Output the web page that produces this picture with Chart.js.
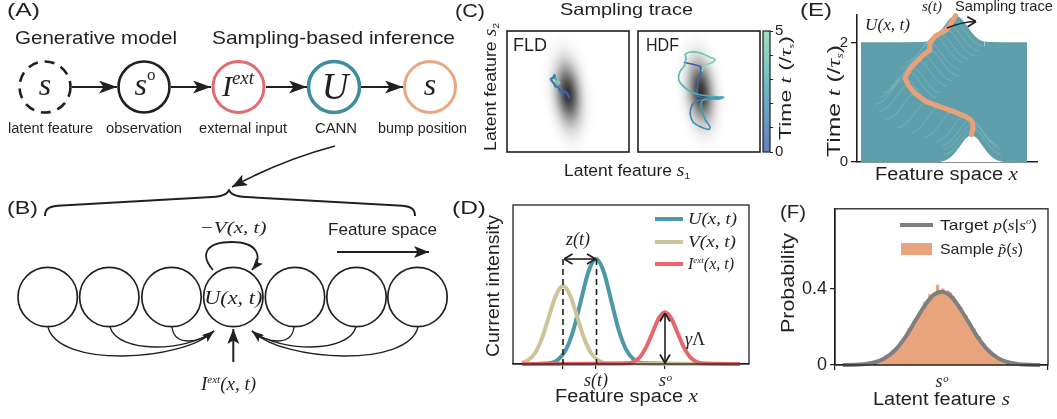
<!DOCTYPE html>
<html><head><meta charset="utf-8">
<script src="https://cdn.jsdelivr.net/npm/chart.js@4.4.0/dist/chart.umd.min.js"></script>
<style>
html,body{margin:0;padding:0;background:#fff;}
#wrap{position:relative;width:1057px;height:419px;overflow:hidden;background:#fff;}
#wrap canvas{position:absolute;}
#ov{position:absolute;left:0;top:0;pointer-events:none;}
#ov text{font-family:'Liberation Sans',Arial,Helvetica,sans-serif;fill:#231f20;}
#ov .m{font-family:'Liberation Serif','Times New Roman',serif;font-style:italic;}
#ov .r{font-style:normal;}
</style></head><body>
<div id="wrap">
<canvas id="cC1" width="127" height="127" style="left:505px;top:28px"></canvas>
<canvas id="cC2" width="127" height="127" style="left:636px;top:28px"></canvas>
<canvas id="cCb" width="40" height="150" style="left:760px;top:15px"></canvas>
<canvas id="cE" width="237" height="190" style="left:820px;top:0px"></canvas>
<canvas id="cD" width="280" height="200" style="left:480px;top:195px"></canvas>
<canvas id="cF" width="277" height="200" style="left:780px;top:195px"></canvas>

<svg id="ov" width="1057" height="419" viewBox="0 0 1057 419">
<defs>
<marker id="mA" viewBox="0 0 18 13" refX="18" refY="6.5" markerWidth="18" markerHeight="13" markerUnits="userSpaceOnUse" orient="auto"><path d="M0,0 L18,6.5 L0,13 L4.5,6.5 Z" fill="#231f20"/></marker>
<marker id="mB" viewBox="0 0 15 12" refX="15" refY="6" markerWidth="15" markerHeight="12" markerUnits="userSpaceOnUse" orient="auto"><path d="M0,0 L15,6 L0,12 L3.5,6 Z" fill="#231f20"/></marker>
<marker id="mS" viewBox="0 0 12 9" refX="12" refY="4.5" markerWidth="12" markerHeight="9" markerUnits="userSpaceOnUse" orient="auto"><path d="M0,0 L12,4.5 L0,9 L2.5,4.5 Z" fill="#231f20"/></marker>
<marker id="mC" viewBox="0 0 10 12" refX="9.5" refY="6" markerWidth="10" markerHeight="12" markerUnits="userSpaceOnUse" orient="auto-start-reverse"><path d="M1,1 L9.5,6 L1,11" fill="none" stroke="#231f20" stroke-width="1.8"/></marker>
</defs>

<!-- Panel A -->
<text x="7" y="16" font-size="18" textLength="33" lengthAdjust="spacingAndGlyphs">(A)</text>
<text x="15" y="44" font-size="18.5" textLength="162" lengthAdjust="spacingAndGlyphs">Generative model</text>
<text x="212" y="44" font-size="18.5" textLength="243" lengthAdjust="spacingAndGlyphs">Sampling-based inference</text>
<circle cx="45" cy="87" r="25.5" fill="none" stroke="#231f20" stroke-width="2.6" stroke-dasharray="10 7"/>
<circle cx="144" cy="87" r="25.5" fill="none" stroke="#231f20" stroke-width="2.6"/>
<circle cx="238.5" cy="87" r="25.5" fill="none" stroke="#e26a70" stroke-width="3"/>
<circle cx="334" cy="87" r="25.5" fill="none" stroke="#3e8e9f" stroke-width="3.6"/>
<circle cx="430" cy="87" r="25.5" fill="none" stroke="#eaa77f" stroke-width="3"/>
<g stroke="#231f20" stroke-width="1.8">
<line x1="72" y1="87" x2="117" y2="87" marker-end="url(#mA)"/>
<line x1="171" y1="87" x2="211" y2="87" marker-end="url(#mA)"/>
<line x1="266" y1="87" x2="307" y2="87" marker-end="url(#mA)"/>
<line x1="361" y1="87" x2="403" y2="87" marker-end="url(#mA)"/>
</g>
<text class="m" x="45" y="95" text-anchor="middle" font-size="32">s</text>
<text class="m" x="145" y="95" text-anchor="middle" font-size="32">s<tspan class="r" font-size="17" dy="-15">o</tspan></text>
<text class="m" x="238" y="96" text-anchor="middle" font-size="30">I<tspan font-size="19" dy="-12">ext</tspan></text>
<text class="m" x="335" y="99" text-anchor="middle" font-size="37">U</text>
<text class="m" x="430" y="95" text-anchor="middle" font-size="32">s</text>
<g font-size="14.5" text-anchor="middle">
<text x="50.5" y="133" textLength="85" lengthAdjust="spacingAndGlyphs">latent feature</text>
<text x="144" y="133" textLength="76" lengthAdjust="spacingAndGlyphs">observation</text>
<text x="243" y="133" textLength="88" lengthAdjust="spacingAndGlyphs">external input</text>
<text x="336" y="133" textLength="42" lengthAdjust="spacingAndGlyphs">CANN</text>
<text x="422.5" y="133" textLength="89" lengthAdjust="spacingAndGlyphs">bump position</text>
</g>
<path d="M335 146 Q282 160 232 187" fill="none" stroke="#231f20" stroke-width="1.8" marker-end="url(#mB)"/>

<!-- Panel B -->
<text x="7" y="214" font-size="18" textLength="31" lengthAdjust="spacingAndGlyphs">(B)</text>
<path d="M45 216 C45 208 50 206 62 205.5 L212 197 C222 196.5 228 194 229 189.5 C230 194 236 196.5 246 197 L398 205.5 C410 206 415 208 415 216" fill="none" stroke="#231f20" stroke-width="2"/>
<text class="m" x="233" y="233" text-anchor="middle" font-size="17" textLength="67" lengthAdjust="spacingAndGlyphs">−V(x, t)</text>
<text x="328" y="235" font-size="17" textLength="109" lengthAdjust="spacingAndGlyphs">Feature space</text>
<line x1="337" y1="252" x2="429" y2="252" stroke="#231f20" stroke-width="2" marker-end="url(#mB)"/>
<g fill="none" stroke="#231f20" stroke-width="1.7">
<circle cx="47.7" cy="297" r="29.7"/><circle cx="109.3" cy="297" r="29.7"/><circle cx="171.5" cy="297" r="29.7"/>
<circle cx="233.3" cy="297" r="29.7"/><circle cx="295" cy="297" r="29.7"/><circle cx="356.5" cy="297" r="29.7"/><circle cx="417.5" cy="297" r="29.7"/>
</g>
<text class="m" x="233.3" y="304" text-anchor="middle" font-size="19" textLength="58" lengthAdjust="spacingAndGlyphs">U(x, t)</text>
<g fill="none" stroke="#231f20" stroke-width="1.3">
<path d="M48 327 C58 368 182 362 214 331"/>
<path d="M110 327 C118 354 186 352 214 331"/>
<path d="M172 327 C174 346 198 344 214 331" marker-end="url(#mS)"/>
<path d="M418 327 C408 368 284 362 252 331"/>
<path d="M356 327 C348 354 280 352 252 331"/>
<path d="M294 327 C292 346 268 344 252 331" marker-end="url(#mS)"/>
<path d="M213 270 C200 255 205 242 232 242 C258 242 263 257 252 270" stroke-width="1.8" marker-end="url(#mS)"/>
<line x1="233.3" y1="362" x2="233.3" y2="329" stroke-width="2" marker-end="url(#mB)"/>
</g>
<text class="m" x="201" y="390" font-size="19">I<tspan font-size="11" dy="-7">ext</tspan><tspan dy="7">(x, t)</tspan></text>

<!-- Panel C -->
<text x="455" y="17" font-size="18" textLength="30" lengthAdjust="spacingAndGlyphs">(C)</text>
<text x="560" y="15" font-size="16.5" textLength="133" lengthAdjust="spacingAndGlyphs">Sampling trace</text>
<text x="513" y="51" font-size="18" textLength="34" lengthAdjust="spacingAndGlyphs">FLD</text>
<text x="646" y="51" font-size="18" textLength="33" lengthAdjust="spacingAndGlyphs">HDF</text>
<text x="564" y="176" font-size="16" textLength="126" lengthAdjust="spacingAndGlyphs">Latent feature <tspan class="m" font-size="18">s</tspan><tspan font-size="9" dy="3">1</tspan></text>
<text transform="translate(496,87) rotate(-90)" text-anchor="middle" font-size="16" textLength="128" lengthAdjust="spacingAndGlyphs">Latent feature <tspan class="m" font-size="18">s</tspan><tspan font-size="9" dy="3">2</tspan></text>
<text transform="translate(791,88) rotate(-90)" text-anchor="middle" font-size="17" textLength="104" lengthAdjust="spacingAndGlyphs">Time <tspan class="m">t</tspan> (/<tspan class="m">τ</tspan><tspan class="m" font-size="9" dy="3">s</tspan><tspan dy="-3">)</tspan></text>

<!-- Panel D -->
<text x="452" y="214" font-size="18" textLength="34" lengthAdjust="spacingAndGlyphs">(D)</text>
<text transform="translate(499,286) rotate(-90)" text-anchor="middle" font-size="18" textLength="142" lengthAdjust="spacingAndGlyphs">Current intensity</text>
<text x="555" y="402" font-size="18" textLength="143" lengthAdjust="spacingAndGlyphs">Feature space <tspan class="m" font-size="19">x</tspan></text>
<g stroke="#231f20" stroke-width="1.6" fill="none">
<line x1="563" y1="259" x2="563" y2="364" stroke-dasharray="6 4"/>
<line x1="596.5" y1="259" x2="596.5" y2="364" stroke-dasharray="6 4"/>
<line x1="564" y1="259" x2="595.5" y2="259" marker-start="url(#mC)" marker-end="url(#mC)"/>
<line x1="665" y1="313" x2="665" y2="363" marker-start="url(#mC)" marker-end="url(#mC)"/>
</g>
<text class="m" x="578" y="245" text-anchor="middle" font-size="18">z(t)</text>
<text class="m" x="685" y="345" font-size="18">γ<tspan class="r">Λ</tspan></text>
<line x1="655" y1="219" x2="683" y2="219" stroke="#4b98a6" stroke-width="4"/>
<line x1="655" y1="242" x2="683" y2="242" stroke="#cdc499" stroke-width="4"/>
<line x1="655" y1="264" x2="683" y2="264" stroke="#e5676c" stroke-width="4"/>
<text class="m" x="688" y="224" font-size="16" textLength="49" lengthAdjust="spacingAndGlyphs">U(x, t)</text>
<text class="m" x="688" y="247" font-size="16" textLength="48" lengthAdjust="spacingAndGlyphs">V(x, t)</text>
<text class="m" x="688" y="269" font-size="16">I<tspan font-size="9" dy="-6">ext</tspan><tspan dy="6">(x, t)</tspan></text>

<!-- Panel E -->
<text x="800" y="16" font-size="18" textLength="32" lengthAdjust="spacingAndGlyphs">(E)</text>
<text class="m" x="865" y="30" font-size="16" textLength="45" lengthAdjust="spacingAndGlyphs">U(x, t)</text>
<text class="m" x="922" y="11" font-size="15">s(t)</text>
<text x="955" y="11" font-size="15" textLength="98" lengthAdjust="spacingAndGlyphs">Sampling trace</text>
<path d="M947 28 Q961 22 976 21.5" fill="none" stroke="#231f20" stroke-width="1.6" marker-end="url(#mC)"/>
<text transform="translate(840,101) rotate(-90)" text-anchor="middle" font-size="18" textLength="112" lengthAdjust="spacingAndGlyphs">Time <tspan class="m">t</tspan> (/<tspan class="m">τ</tspan><tspan class="m" font-size="10" dy="3">s</tspan><tspan dy="-3">)</tspan></text>
<text x="875" y="180" font-size="18" textLength="143" lengthAdjust="spacingAndGlyphs">Feature space <tspan class="m" font-size="19">x</tspan></text>

<!-- Panel F -->
<text x="780" y="218" font-size="18" textLength="26" lengthAdjust="spacingAndGlyphs">(F)</text>
<text transform="translate(794,283) rotate(-90)" text-anchor="middle" font-size="18" textLength="100" lengthAdjust="spacingAndGlyphs">Probability</text>
<text x="873" y="405" font-size="18" textLength="137" lengthAdjust="spacingAndGlyphs">Latent feature <tspan class="m" font-size="19">s</tspan></text>
<line x1="900" y1="225" x2="933" y2="225" stroke="#7f7f7f" stroke-width="4"/>
<text x="940" y="230" font-size="15" textLength="97" lengthAdjust="spacingAndGlyphs">Target <tspan class="m">p</tspan>(<tspan class="m">s</tspan>|<tspan class="m">s</tspan><tspan class="m" font-size="9" dy="-6">o</tspan><tspan dy="6">)</tspan></text>
<rect x="901" y="243" width="31" height="12" fill="#e8a47c"/>
<text x="940" y="254" font-size="15" textLength="83" lengthAdjust="spacingAndGlyphs">Sample <tspan class="m">p̃</tspan>(<tspan class="m">s</tspan>)</text>
</svg>
</div>

<script>
// ================= DATA =================
// Panel C: sampling traces in (s1, s2), time in units of tau_s
const cRange = [-3, 3];
const fldS1 = [0.05,-0.06,-0.18,-0.28,-0.39,-0.48,-0.61,-0.67,-0.80,-0.84,-0.72,-0.67,-0.61,-0.51,-0.43,-0.51];
const fldS2 = [-0.29,-0.07,-0.01,-0.09,0.04,0.21,0.26,0.37,0.53,0.62,0.70,0.81,0.62,0.48,0.42,0.53];
const fldT  = [0,0.2,0.4,0.6,0.8,1.0,1.1,1.2,1.3,1.4,1.5,1.6,3.5,4.2,4.7,5.0];
const hdfS1 = [-0.72,-0.31,0.05,0.10,-0.02,-0.07,-0.10,0.51,1.13,0.43,-0.07,-0.34,-0.43,-0.28,0.10,0.48,0.54,0.31,0.15,0.11,0.26,1.00,1.20,0.59,-0.07,-0.48,-0.80,-1.00,-0.94,-0.72,-0.64,-0.67,-0.39,0.10,0.59,0.79,0.64,0.26,0.15];
const hdfS2 = [1.44,1.35,1.24,1.02,0.62,0.21,-0.21,-0.34,-0.29,-0.40,-0.45,-0.67,-1.11,-1.52,-1.76,-1.88,-1.76,-1.39,-0.94,-0.57,-0.40,-0.37,-0.29,-0.24,-0.14,0.04,0.29,0.58,0.98,1.27,1.64,1.85,1.96,1.90,1.68,1.57,1.44,1.27,1.02];
const hdfT  = [0,0.12,0.25,0.37,0.5,0.62,0.75,0.87,1.0,1.2,1.35,1.5,1.65,1.8,1.95,2.1,2.2,2.35,2.5,2.6,2.7,2.8,2.9,3.0,3.1,3.2,3.35,3.5,3.6,3.7,3.8,3.95,4.1,4.3,4.5,4.65,4.8,4.9,5.0];
const cMeanFLD = [0.0, -0.12];
const cMeanHDF = [0.08, 0.0];
const cSd = [0.4, 1.0];
const cAngle = -6;
const cbarRange = [0, 5];
const cbarTickLabels = ['0','','','','','5'];

// Panel D: current profiles
const dU_x = [0.4,1.6,1.92,2.24,2.56,2.88,3.2,3.52,3.84,4.16,4.48,4.8,5.12,5.44,9.6];
const dU_y = [0,0.007,0.029,0.089,0.214,0.400,0.582,0.66,0.582,0.400,0.214,0.089,0.029,0.007,0];
const dV_x = [0.38,0.62,0.92,1.22,1.52,1.82,2.12,2.42,2.72,3.02,3.32,3.62,3.92,9.6];
const dV_y = [0.007,0.022,0.066,0.159,0.297,0.432,0.49,0.432,0.297,0.159,0.066,0.022,0.005,0];
const dI_x = [0.38,4.85,5.115,5.38,5.645,5.91,6.175,6.44,6.705,6.97,7.235,7.5,7.765,8.03,9.62];
const dI_y = [0,0.004,0.014,0.044,0.106,0.197,0.287,0.325,0.287,0.197,0.106,0.044,0.014,0.004,0];
const dTickPos = [2.12, 3.52, 6.44];
const dTickLabels = ['', 's(t)', 'sᵒ'];

// Panel E: bump trajectory s(t) and bump profile
const eTraceT = [0,0.1,0.19,0.25,0.31,0.39,0.47,0.55,0.69,0.83,0.95,1.06,1.14,1.25,1.34,1.42,1.54,1.65,1.7,1.76,1.84,1.93,2.0];
const eTraceS = [0.33,0.35,0.345,0.32,0.25,0.11,-0.05,-0.21,-0.35,-0.43,-0.47,-0.43,-0.39,-0.31,-0.25,-0.17,-0.17,-0.11,-0.05,0.03,0.07,0.11,0.14];
const eBumpDx = [-0.42,-0.35,-0.28,-0.21,-0.14,-0.07,0,0.07,0.14,0.21,0.28,0.35,0.42];
const eBumpShape = [0.011,0.044,0.135,0.325,0.607,0.882,1,0.882,0.607,0.325,0.135,0.044,0.011];
const eBumpH = 0.46;
const eXRange = [-1, 1];
const eYTickPos = [0, 2];
const eYTickLabels = ['0', '2'];

// Panel F: sample histogram and target posterior
const fHistCenters = [-2.45,-2.35,-2.25,-2.15,-2.05,-1.95,-1.85,-1.75,-1.65,-1.55,-1.45,-1.35,-1.25,-1.15,-1.05,-0.95,-0.85,-0.75,-0.65,-0.55,-0.45,-0.35,-0.25,-0.15,-0.05,0.05,0.15,0.25,0.35,0.45,0.55,0.65,0.75,0.85,0.95,1.05,1.15,1.25,1.35,1.45,1.55,1.65,1.75,1.85,1.95,2.05,2.15,2.25,2.35,2.45];
const fHistValues = [0.02,0.03,0.03,0.05,0.05,0.06,0.08,0.07,0.10,0.11,0.14,0.15,0.19,0.20,0.23,0.25,0.27,0.29,0.33,0.34,0.37,0.36,0.38,0.42,0.39,0.40,0.37,0.39,0.38,0.36,0.34,0.31,0.30,0.27,0.26,0.22,0.21,0.19,0.16,0.15,0.12,0.11,0.09,0.08,0.06,0.05,0.04,0.03,0.03,0.02];
const fTargetX = [-3.8,-3.4,-3.0,-2.6,-2.2,-1.8,-1.4,-1.0,-0.6,-0.3,0,0.3,0.6,1.0,1.4,1.8,2.2,2.6,3.0,3.4,3.8];
const fTargetY = [0.0003,0.0012,0.0043,0.013,0.034,0.076,0.145,0.234,0.321,0.368,0.385,0.368,0.321,0.234,0.145,0.076,0.034,0.013,0.0043,0.0012,0.0003];
const fYTickPos = [0, 0.4];
const fYTickLabels = ['0', '0.4'];
const fXTickPos = [0];
const fXTickLabels = ['sᵒ'];

// ================= STYLE / HELPERS =================
const INK = '#231f20';
const TEAL = '#5e9fab';
const RIDGE = 'rgba(190,225,230,0.2)';
const SERIF_IT = {family:"'Liberation Serif','Times New Roman',serif", style:'italic', size:18};
Chart.defaults.font.family = "'Liberation Sans', Arial, Helvetica, sans-serif";
Chart.defaults.color = INK;

const cmapStops = [[0,[58,88,176]],[0.5,[64,160,182]],[1,[128,218,170]]];
function cmap(f, a){
  if (a === undefined) a = 1;
  f = Math.max(0, Math.min(1, f));
  const i = f <= 0.5 ? 0 : 1;
  const [f0,c0] = cmapStops[i], [f1,c1] = cmapStops[i+1];
  const u = (f - f0) / (f1 - f0);
  const c = c0.map((v,j) => Math.round(v + (c1[j]-v)*u));
  return `rgba(${c[0]},${c[1]},${c[2]},${a})`;
}
const pts = (xs, ys) => xs.map((x,i) => ({x, y: ys[i]}));

const framePlugin = {
  id: 'frame',
  afterDraw(chart, args, o) {
    if (!o || !o.show) return;
    const a = chart.chartArea, ctx = chart.ctx;
    ctx.save();
    ctx.strokeStyle = o.color || INK;
    ctx.lineWidth = o.width || 1.3;
    ctx.strokeRect(a.left, a.top, a.right - a.left, a.bottom - a.top);
    ctx.restore();
  }
};
const blobPlugin = {
  id: 'blob',
  beforeDatasetsDraw(chart, args, o) {
    if (!o || !o.mean) return;
    const xs = chart.scales.x, ys = chart.scales.y, ctx = chart.ctx, a = chart.chartArea;
    const cx = xs.getPixelForValue(o.mean[0]), cy = ys.getPixelForValue(o.mean[1]);
    const sx = Math.abs(xs.getPixelForValue(o.sd[0]) - xs.getPixelForValue(0));
    const sy = Math.abs(ys.getPixelForValue(o.sd[1]) - ys.getPixelForValue(0));
    ctx.save();
    ctx.beginPath(); ctx.rect(a.left, a.top, a.right - a.left, a.bottom - a.top); ctx.clip();
    ctx.translate(cx, cy); ctx.rotate(o.angle * Math.PI / 180); ctx.scale(sx, sy);
    const R = 3.6;
    const g = ctx.createRadialGradient(0, 0, 0, 0, 0, R);
    for (let r = 0; r <= R + 1e-9; r += 0.2) g.addColorStop(Math.min(1, r / R), `rgba(0,0,0,${(o.peak * Math.exp(-r*r/2)).toFixed(4)})`);
    ctx.fillStyle = g;
    ctx.beginPath(); ctx.arc(0, 0, R, 0, Math.PI*2); ctx.fill();
    ctx.restore();
  }
};
Chart.register(framePlugin, blobPlugin);

function baseOpts(pad, extraPlugins) {
  return {
    responsive: false, animation: false, devicePixelRatio: 1, events: [],
    layout: {padding: pad},
    plugins: Object.assign({legend: {display: false}, tooltip: {enabled: false}}, extraPlugins || {})
  };
}

// ================= PANEL C =================
function traceDS(s1, s2, t, w) {
  return {
    data: pts(s1, s2), showLine: true, pointRadius: 0, borderWidth: w, tension: 0.3,
    borderColor: cmap(0), borderCapStyle: 'round', borderJoinStyle: 'round', clip: false,
    segment: {borderColor: c => cmap(t[c.p0DataIndex] / cbarRange[1])}
  };
}
function cScales() {
  return {
    x: {display: false, type: 'linear', min: cRange[0], max: cRange[1]},
    y: {display: false, type: 'linear', min: cRange[0], max: cRange[1]}
  };
}
new Chart(document.getElementById('cC1'), {
  type: 'scatter',
  data: {datasets: [traceDS(fldS1, fldS2, fldT, 2.3)]},
  options: Object.assign(baseOpts({left: 2, top: 3, right: 3, bottom: 3},
    {frame: {show: true, width: 1.6}, blob: {mean: cMeanFLD, sd: cSd, angle: cAngle, peak: 0.8}}), {scales: cScales()})
});
new Chart(document.getElementById('cC2'), {
  type: 'scatter',
  data: {datasets: [traceDS(hdfS1, hdfS2, hdfT, 1.6)]},
  options: Object.assign(baseOpts({left: 2, top: 3, right: 3, bottom: 3},
    {frame: {show: true, width: 1.6}, blob: {mean: cMeanHDF, sd: cSd, angle: cAngle, peak: 0.8}}), {scales: cScales()})
});
new Chart(document.getElementById('cCb'), {
  type: 'bar',
  data: {labels: [''], datasets: [{
    data: [[cbarRange[0], cbarRange[1]]], barPercentage: 1, categoryPercentage: 1, borderWidth: 0,
    backgroundColor: c => {
      const ch = c.chart, a = ch.chartArea;
      if (!a) return cmap(0.5);
      const g = ch.ctx.createLinearGradient(0, a.bottom, 0, a.top);
      g.addColorStop(0, cmap(0, 0.78)); g.addColorStop(0.5, cmap(0.5, 0.78)); g.addColorStop(1, cmap(1, 0.78));
      return g;
    }
  }]},
  options: Object.assign(baseOpts({left: 3, top: 16, right: 0, bottom: 13}, {frame: {show: true, width: 1.2}}), {
    scales: {
      x: {display: false},
      y: {position: 'right', min: cbarRange[0], max: cbarRange[1],
          afterFit(s) { s.width = 30; },
          ticks: {stepSize: 1, padding: 2, font: {size: 15}, callback: (v, i) => cbarTickLabels[i]},
          grid: {drawOnChartArea: false, tickLength: 3, color: INK},
          border: {display: false}}
    }
  })
});

// ================= PANEL D =================
new Chart(document.getElementById('cD'), {
  type: 'scatter',
  data: {datasets: [
    {data: pts(dI_x, dI_y), borderColor: '#e5676c', order: 0},
    {data: pts(dV_x, dV_y), borderColor: '#cdc499', order: 1},
    {data: pts(dU_x, dU_y), borderColor: '#4b98a6', order: 2}
  ].map(d => Object.assign({showLine: true, pointRadius: 0, borderWidth: 4, cubicInterpolationMode: 'monotone', clip: false}, d))},
  options: Object.assign(baseOpts({left: 33, top: 10, right: 11, bottom: 0}, {frame: {show: true, width: 1.3}}), {
    scales: {
      x: {type: 'linear', min: 0, max: 10,
          afterFit(s) { s.height = 31; },
          afterBuildTicks(s) { s.ticks = dTickPos.map(v => ({value: v})); },
          ticks: {autoSkip: false, maxRotation: 0, padding: 1, font: SERIF_IT, callback: (v, i) => dTickLabels[i]},
          grid: {drawOnChartArea: false, drawTicks: true, tickLength: 5, color: INK, lineWidth: 1.2},
          border: {display: true, color: INK, width: 1.3}},
      y: {display: false, min: 0, max: 1}
    }
  })
});

// ================= PANEL E =================
const eDatasets = [{
  data: eTraceT.map((t, k) => ({x: eTraceS[k], y: t + eBumpH})),
  borderColor: '#e9a277', borderWidth: 5, pointRadius: 0, fill: false, order: 0, clip: false,
  borderJoinStyle: 'round', borderCapStyle: 'round'
}].concat(eTraceT.map((t, k) => ({
  data: [{x: eXRange[0], y: t}]
    .concat(eBumpDx.map((dx, i) => ({x: eTraceS[k] + dx, y: t + eBumpH * eBumpShape[i]})))
    .concat([{x: eXRange[1], y: t}]),
  fill: 'origin', backgroundColor: k === 0 ? '#ffffff' : TEAL, borderColor: TEAL, borderWidth: 1.2,
  segment: {borderColor: c => (k > 0 && (c.p0.parsed.y - t > 0.03 || c.p1.parsed.y - t > 0.03)) ? RIDGE : TEAL},
  pointRadius: 0, cubicInterpolationMode: 'monotone', order: k + 1, clip: false
})));
new Chart(document.getElementById('cE'), {
  type: 'line',
  data: {datasets: eDatasets},
  options: Object.assign(baseOpts({left: 0, top: 15, right: 20, bottom: 0}), {
    scales: {
      x: {type: 'linear', min: -1.048, max: 1.1205,
          afterFit(s) { s.height = 28; },
          ticks: {display: false},
          grid: {drawOnChartArea: false, drawTicks: false},
          border: {display: true, color: INK, width: 1.6}},
      y: {type: 'linear', min: 0, max: 2.47,
          afterFit(s) { s.width = 37; },
          afterBuildTicks(s) { s.ticks = eYTickPos.map(v => ({value: v})); },
          ticks: {padding: 3, font: {size: 15}, callback: (v, i) => eYTickLabels[i]},
          grid: {drawOnChartArea: false, tickLength: 6, color: INK, lineWidth: 1.3},
          border: {display: true, color: INK, width: 1.6}}
    }
  })
});

// ================= PANEL F =================
new Chart(document.getElementById('cF'), {
  type: 'bar',
  data: {datasets: [
    {type: 'line', data: pts(fTargetX, fTargetY), borderColor: '#7f7f7f', borderWidth: 4, pointRadius: 0,
     cubicInterpolationMode: 'monotone', order: 0, clip: false, fill: false},
    {type: 'bar', data: pts(fHistCenters, fHistValues), backgroundColor: '#e8a47c', borderWidth: 0,
     barPercentage: 1, categoryPercentage: 1, order: 1}
  ]},
  options: Object.assign(baseOpts({left: 0, top: 10, right: 9, bottom: 0}, {frame: {show: true, width: 1.3}}), {
    scales: {
      x: {type: 'linear', offset: false, min: -4.1, max: 4.1,
          afterFit(s) { s.height = 30; },
          afterBuildTicks(s) { s.ticks = fXTickPos.map(v => ({value: v})); },
          ticks: {autoSkip: false, maxRotation: 0, padding: 1, font: SERIF_IT, callback: (v, i) => fXTickLabels[i]},
          grid: {drawOnChartArea: false, tickLength: 5, color: INK, lineWidth: 1.2},
          border: {display: true, color: INK, width: 1.3}},
      y: {type: 'linear', min: 0, max: 0.82,
          afterFit(s) { s.width = 55; },
          afterBuildTicks(s) { s.ticks = fYTickPos.map(v => ({value: v})); },
          ticks: {padding: 3, font: {size: 18}, callback: (v, i) => fYTickLabels[i]},
          grid: {drawOnChartArea: false, tickLength: 5, color: INK, lineWidth: 1.2},
          border: {display: true, color: INK, width: 1.3}}
    }
  })
});
</script>
</body></html>
